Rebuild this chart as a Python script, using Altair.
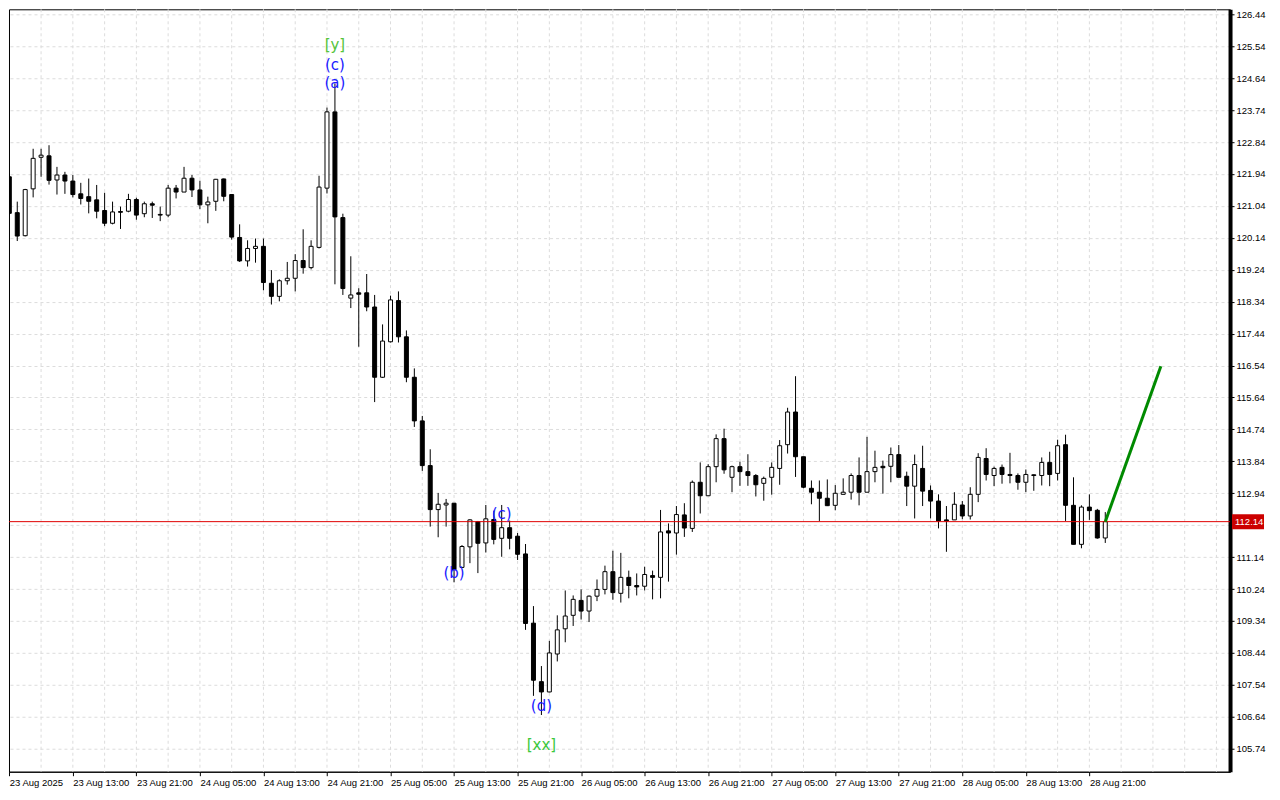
import json
import altair as alt
import pandas as pd

# ---------------- data (hourly candles, 23 Aug 05:00 -> 28 Aug 23:00) ----------------
open_ = [121.86, 120.85, 120.20, 121.52, 122.41, 122.45, 121.77, 121.91, 121.74, 121.38,
         121.30, 121.21, 120.91, 120.55, 120.88, 120.89, 121.22, 120.82, 121.10, 120.80,
         120.78, 121.54, 121.43, 121.82, 121.49, 121.07, 121.17, 121.80, 121.36, 120.15,
         119.49, 119.84, 119.90, 118.86, 118.49, 118.93, 119.00, 119.50, 119.30, 119.87,
         121.54, 123.69, 120.71, 118.44, 118.59, 118.59, 118.19, 116.21, 117.21, 118.37,
         117.35, 116.21, 114.98, 113.72, 112.48, 112.61, 112.66, 110.85, 111.43, 112.14,
         111.54, 112.20, 111.67, 111.97, 111.73, 111.23, 109.28, 107.63, 107.34, 108.41,
         109.12, 109.50, 109.92, 109.62, 110.04, 110.23, 110.73, 110.12, 110.57, 110.34,
         110.32, 110.62, 110.57, 111.88, 111.82, 112.33, 111.95, 113.25, 112.87, 113.69,
         114.48, 113.39, 113.69, 113.55, 113.44, 113.22, 113.39, 113.64, 114.31, 115.23,
         113.97, 113.08, 112.97, 112.80, 112.60, 112.91, 112.97, 113.44, 112.97, 113.55,
         113.70, 113.70, 114.03, 113.42, 113.14, 113.64, 113.02, 112.72, 112.19, 112.19,
         112.61, 112.30, 112.91, 113.92, 113.44, 113.67, 113.47, 113.44, 113.25, 113.46,
         113.44, 113.81, 113.50, 114.31, 112.60, 111.50, 112.55, 112.46, 111.68]
high = [121.95, 121.16, 121.52, 122.65, 122.65, 122.75, 122.14, 122.00, 121.91, 121.69,
        121.81, 121.63, 121.41, 121.16, 121.02, 121.38, 121.27, 121.16, 121.16, 121.02,
        121.63, 121.63, 122.14, 121.91, 121.75, 121.30, 121.80, 121.81, 121.36, 120.52,
        120.07, 120.12, 120.12, 119.23, 118.97, 119.46, 119.68, 120.38, 120.07, 121.89,
        123.81, 124.49, 120.82, 119.62, 118.72, 119.12, 118.53, 117.70, 118.51, 118.63,
        117.53, 116.46, 115.12, 114.18, 112.95, 112.78, 112.66, 111.48, 112.21, 112.16,
        112.61, 112.45, 112.61, 112.17, 111.82, 111.51, 109.76, 108.07, 108.78, 109.50,
        110.20, 110.06, 110.23, 110.06, 110.51, 110.90, 111.32, 111.26, 110.76, 110.68,
        110.87, 110.76, 112.47, 112.09, 112.58, 112.66, 113.30, 113.81, 113.76, 114.60,
        114.76, 113.72, 113.83, 114.04, 113.48, 113.41, 113.81, 114.44, 115.35, 116.24,
        113.97, 113.30, 113.30, 113.33, 113.17, 113.36, 113.50, 113.95, 114.53, 114.14,
        113.86, 114.23, 114.30, 113.55, 114.03, 114.28, 113.16, 112.91, 112.58, 112.97,
        112.72, 113.11, 114.07, 114.21, 113.69, 113.75, 114.08, 113.50, 113.61, 113.47,
        113.95, 114.11, 114.45, 114.59, 113.39, 112.60, 112.91, 112.50, 112.41]
low = [120.80, 120.05, 120.18, 121.28, 121.86, 121.64, 121.36, 121.38, 121.28, 121.08,
       120.83, 120.69, 120.47, 120.52, 120.39, 120.86, 120.65, 120.72, 120.70, 120.61,
       120.72, 121.25, 121.43, 121.29, 120.95, 120.55, 120.90, 121.17, 120.09, 119.46,
       119.33, 119.44, 118.66, 118.26, 118.35, 118.82, 118.63, 119.13, 119.25, 119.84,
       121.39, 118.83, 118.53, 118.16, 117.07, 118.07, 115.51, 116.19, 117.19, 117.19,
       116.07, 114.81, 113.57, 112.00, 111.70, 112.00, 110.43, 110.85, 110.97, 110.69,
       111.27, 111.50, 111.15, 111.36, 111.06, 109.09, 107.23, 106.69, 107.33, 108.20,
       108.74, 109.20, 109.38, 109.31, 109.90, 110.09, 109.94, 109.86, 109.98, 110.06,
       110.20, 109.95, 109.98, 110.45, 111.21, 111.71, 111.85, 112.37, 112.87, 113.25,
       113.49, 112.97, 113.15, 113.15, 112.85, 112.73, 112.90, 113.18, 114.06, 113.40,
       113.08, 112.63, 112.16, 112.58, 112.46, 112.91, 112.76, 112.60, 112.97, 113.25,
       112.93, 113.25, 113.39, 112.58, 112.23, 112.58, 112.23, 111.95, 111.29, 112.19,
       112.21, 112.20, 112.69, 113.30, 113.14, 113.21, 113.22, 113.04, 112.97, 113.01,
       113.16, 113.14, 113.30, 112.16, 111.50, 111.39, 112.19, 111.66, 111.54]
close = [120.83, 120.19, 121.50, 122.38, 122.47, 121.76, 121.91, 121.74, 121.36, 121.25,
         121.17, 120.89, 120.55, 120.87, 120.86, 121.22, 120.78, 121.10, 121.06, 120.78,
         121.54, 121.43, 121.82, 121.49, 121.07, 121.15, 121.79, 121.31, 120.16, 119.49,
         119.84, 119.90, 118.88, 118.49, 118.93, 119.00, 119.50, 119.30, 119.90, 121.57,
         123.69, 120.73, 118.71, 118.53, 118.55, 118.19, 116.21, 117.23, 118.39, 117.35,
         116.21, 114.98, 113.72, 112.48, 112.63, 112.66, 110.79, 111.44, 112.19, 111.53,
         112.22, 111.64, 111.97, 111.67, 111.22, 109.27, 107.67, 107.34, 108.44, 109.09,
         109.48, 109.95, 109.62, 110.04, 110.23, 110.73, 110.14, 110.57, 110.34, 110.30,
         110.65, 110.57, 111.85, 111.82, 112.34, 111.96, 113.25, 112.87, 113.69, 114.48,
         113.60, 113.69, 113.55, 113.44, 113.18, 113.36, 113.67, 114.28, 115.23, 113.97,
         113.11, 112.97, 112.80, 112.59, 112.94, 112.97, 113.44, 112.97, 113.55, 113.67,
         113.66, 114.03, 113.39, 113.14, 113.75, 113.00, 112.72, 112.16, 112.16, 112.63,
         112.30, 112.91, 113.95, 113.47, 113.64, 113.47, 113.44, 113.25, 113.47, 113.44,
         113.81, 113.47, 114.28, 112.60, 111.50, 112.55, 112.45, 111.68, 112.14]

x_labels = ["23 Aug 2025", "23 Aug 13:00", "23 Aug 21:00", "24 Aug 05:00", "24 Aug 13:00",
            "24 Aug 21:00", "25 Aug 05:00", "25 Aug 13:00", "25 Aug 21:00", "26 Aug 05:00",
            "26 Aug 13:00", "26 Aug 21:00", "27 Aug 05:00", "27 Aug 13:00", "27 Aug 21:00",
            "28 Aug 05:00", "28 Aug 13:00", "28 Aug 21:00"]
y_ticks = [126.44, 125.54, 124.64, 123.74, 122.84, 121.94, 121.04, 120.14, 119.24, 118.34,
           117.44, 116.54, 115.64, 114.74, 113.84, 112.94, 112.04, 111.14, 110.24, 109.34,
           108.44, 107.54, 106.64, 105.74]

current_price = 112.14

ann_text = ["[y]", "(c)", "(a)", "(b)", "(c)", "(d)", "[xx]"]
ann_i = [41, 41, 41, 56, 62, 67, 67]
ann_price = [125.57, 125.02, 124.49, 110.69, 112.36, 106.94, 105.85]
ann_color = ["#55c43a", "#1a1aff", "#1a1aff", "#1a1aff", "#1a1aff", "#1a1aff", "#3cc83c"]

arrow_i = [138, 145]
arrow_price = [112.14, 116.52]

# ---------------- chart ----------------
n = len(close)
df = pd.DataFrame({"i": list(range(n)), "open": open_, "high": high, "low": low, "close": close})
grid_df = pd.DataFrame({"i": list(range(4, 154, 4))})
ann_df = pd.DataFrame({"i": ann_i, "p": ann_price, "t": ann_text, "c": ann_color})
arrow_df = pd.DataFrame({"i": arrow_i, "p": arrow_price})
price_df = pd.DataFrame({"p": [current_price], "lab": [f"{current_price:.2f}"]})

W, H = 1222, 763
xs = alt.Scale(domain=[-0.04, 153.71], nice=False, zero=False)
ys = alt.Scale(domain=[105.092, 126.581], nice=False, zero=False)
FONT = "Liberation Sans"

label_expr = json.dumps(x_labels) + "[round(datum.value / 8)]"
# the tick label hidden behind the current-price marker is left blank
y_label_expr = ("abs(datum.value - %s) < 0.3 ? '' : format(datum.value, '.2f')" % current_price)

xaxis = alt.Axis(values=list(range(0, 8 * len(x_labels), 8)), labelExpr=label_expr, grid=False,
                 orient="bottom", title=None, tickSize=4, tickColor="black", domainColor="black",
                 domainWidth=1, labelAlign="left", labelBaseline="top", labelPadding=2,
                 labelFont=FONT, labelFontSize=9.5, labelColor="black", labelOverlap=False,
                 labelFlush=False, labelBound=False)
yaxis = alt.Axis(values=y_ticks, labelExpr=y_label_expr, orient="right", title=None, grid=True,
                 gridColor="#dcdcdc", gridDash=[3, 3], tickSize=4, tickColor="black",
                 domainColor="black", domainWidth=4, labelFont=FONT, labelFontSize=9.5,
                 labelColor="black", labelPadding=2, labelOverlap=False, labelFlush=False)


def X(field):
    return alt.X(field, type="quantitative", scale=xs, axis=xaxis)


def Y(field):
    return alt.Y(field, type="quantitative", scale=ys, axis=yaxis)


grid = alt.Chart(grid_df).mark_rule(color="#dcdcdc", strokeDash=[3, 3], strokeWidth=1).encode(
    x=X("i")
)

wick = alt.Chart(df).mark_rule(color="black", strokeWidth=1, clip=True).encode(
    x=X("i"), y=Y("low"), y2="high"
)

body = alt.Chart(df).transform_calculate(
    xa="datum.i - 0.25", xb="datum.i + 0.25"
).mark_rect(stroke="black", strokeWidth=1, clip=True).encode(
    x=X("xa"), x2="xb", y=Y("open"), y2="close",
    fill=alt.condition("datum.close >= datum.open", alt.value("white"), alt.value("black")),
)

price_line = alt.Chart(price_df).mark_rule(color="#e00000", strokeWidth=1).encode(y=Y("p"))

arrow = alt.Chart(arrow_df).mark_line(color="#008a00", strokeWidth=3, clip=True).encode(
    x=X("i"), y=Y("p")
)

ann = alt.Chart(ann_df).mark_text(font="DejaVu Sans", fontSize=15, align="center",
                                  baseline="middle").encode(
    x=X("i"), y=Y("p"), text="t:N", color=alt.Color("c:N", scale=None)
)

red_box = alt.Chart(price_df).mark_rule(color="#cc0000", strokeWidth=15).encode(
    x=alt.value(1224), x2=alt.value(1256), y=Y("p")
)
red_text = alt.Chart(price_df).mark_text(color="white", font=FONT, fontSize=9.5, align="left",
                                         baseline="middle").encode(
    x=alt.value(1227), y=Y("p"), text="lab:N"
)

chart = alt.layer(grid, wick, body, price_line, arrow, ann, red_box, red_text).properties(
    width=W, height=H, padding=0, background="white"
).configure_view(stroke="black", strokeWidth=1)

chart.save("out.html", embed_options={"renderer": "svg", "actions": False})
